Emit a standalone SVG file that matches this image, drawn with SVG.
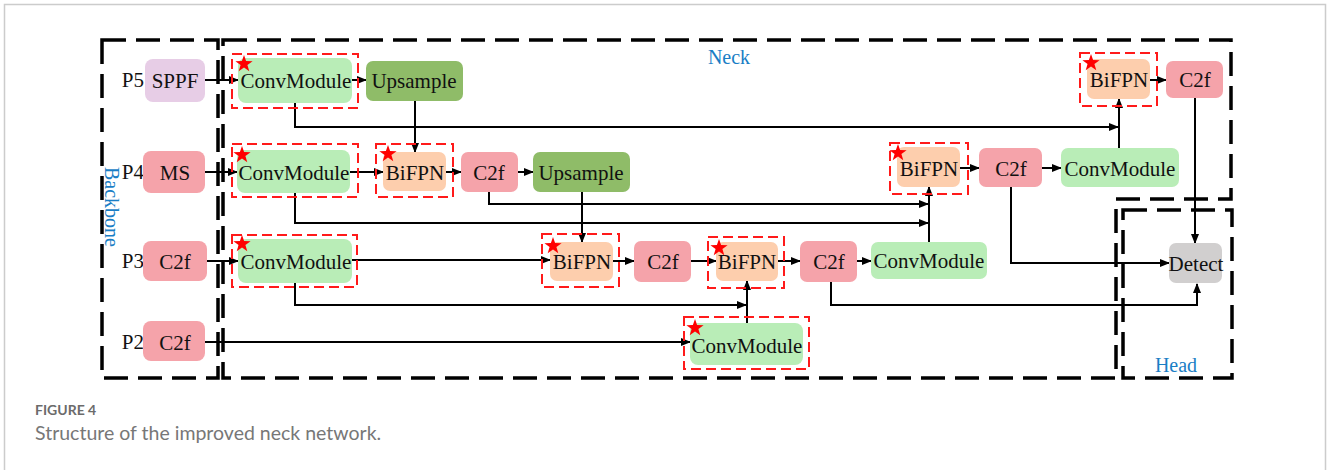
<svg xmlns="http://www.w3.org/2000/svg" width="1328" height="470" viewBox="0 0 1328 470">
<style>
.n text{font-family:"Liberation Serif","Times New Roman",serif;font-size:21px;fill:#111;text-anchor:middle}
.cm{fill:#B9EDB7}.up{fill:#8FBC68}.pk{fill:#F5A3AA}.bf{fill:#FDCEAD}.sp{fill:#E7CDE6}.dt{fill:#D1CFCF}
.rb{fill:none;stroke:#FF1A1A;stroke-width:2;stroke-dasharray:10 5}
.grp{fill:none;stroke:#000;stroke-width:3.5;stroke-dasharray:24 10}
.lbl{font-family:"Liberation Serif","Times New Roman",serif;font-size:20px;fill:#1A7EC5}
.pl{font-family:"Liberation Serif","Times New Roman",serif;font-size:21px;fill:#111;text-anchor:end}
#conn path{fill:none;stroke:#000;stroke-width:2}
</style>
<defs>
<marker id="ah" markerUnits="userSpaceOnUse" markerWidth="10" markerHeight="8" refX="9" refY="4" orient="auto">
<path d="M0,0 L10,4 L0,8 z" fill="#000"/>
</marker>
<path id="star" d="M0,-9 L2.1,-2.9 L8.6,-2.8 L3.4,1.1 L5.3,7.3 L0,3.6 L-5.3,7.3 L-3.4,1.1 L-8.6,-2.8 L-2.1,-2.9 Z" fill="#FF0000"/>
</defs>
<rect width="1328" height="470" fill="#fff"/>
<path d="M4.5,470 V4.5 H1325.5 V470" fill="none" stroke="#CCCCCC" stroke-width="1.5"/>

<g id="groups">
<rect class="grp" x="102" y="40" width="116" height="338"/>
<path class="grp" d="M223,40 H1231 V199 H1116 V378 H223 Z"/>
<rect class="grp" x="1123" y="210" width="109" height="168"/>
<text class="lbl" x="729" y="64" text-anchor="middle">Neck</text>
<text class="lbl" x="1176" y="372" text-anchor="middle">Head</text>
<text class="lbl" transform="translate(105,207) rotate(90)" text-anchor="middle">Backbone</text>
<text class="pl" x="144" y="87">P5</text>
<text class="pl" x="144" y="179">P4</text>
<text class="pl" x="144" y="268">P3</text>
<text class="pl" x="144" y="349">P2</text>
</g>

<g id="conn">
<path d="M205,80 H238" marker-end="url(#ah)"/>
<path d="M352,80 H366" marker-end="url(#ah)"/>
<path d="M415,101 V152" marker-end="url(#ah)"/>
<path d="M295,103 V127 H1118" marker-end="url(#ah)"/>
<path d="M1119,148 V99" marker-end="url(#ah)"/>
<path d="M1150,80 H1166" marker-end="url(#ah)"/>
<path d="M1195,98 V243" marker-end="url(#ah)"/>
<path d="M205,172 H237" marker-end="url(#ah)"/>
<path d="M350,172 H383" marker-end="url(#ah)"/>
<path d="M446,172 H461" marker-end="url(#ah)"/>
<path d="M518,172 H533" marker-end="url(#ah)"/>
<path d="M582,192 V242" marker-end="url(#ah)"/>
<path d="M489,192 V204 H928" marker-end="url(#ah)"/>
<path d="M295,193 V223 H928" marker-end="url(#ah)"/>
<path d="M929,242 V187" marker-end="url(#ah)"/>
<path d="M960,168 H979" marker-end="url(#ah)"/>
<path d="M1042,168 H1061" marker-end="url(#ah)"/>
<path d="M1011,187 V263 H1169" marker-end="url(#ah)"/>
<path d="M207,261 H238" marker-end="url(#ah)"/>
<path d="M352,260 H550" marker-end="url(#ah)"/>
<path d="M613,261 H634" marker-end="url(#ah)"/>
<path d="M691,261 H716" marker-end="url(#ah)"/>
<path d="M778,261 H800" marker-end="url(#ah)"/>
<path d="M857,261 H871" marker-end="url(#ah)"/>
<path d="M831,282 V305 H1197 V284" marker-end="url(#ah)"/>
<path d="M295,283 V305 H746" marker-end="url(#ah)"/>
<path d="M747,323 V281" marker-end="url(#ah)"/>
<path d="M205,342 H690" marker-end="url(#ah)"/>
</g>

<g id="sppf" class="n"><rect class="sp" x="145" y="59" width="60" height="43" rx="8"/><text x="175" y="88">SPPF</text></g>
<g id="conv5" class="n"><rect class="cm" x="238" y="58" width="114" height="45" rx="8"/><text x="296" y="88">ConvModule</text><rect class="rb" x="232" y="54" width="126" height="54"/><use href="#star" x="244" y="64"/></g>
<g id="up5" class="n"><rect class="up" x="366" y="61" width="97" height="40" rx="7"/><text x="414" y="88">Upsample</text></g>

<g id="ms" class="n"><rect class="pk" x="143" y="151" width="62" height="42" rx="8"/><text x="175" y="180">MS</text></g>
<g id="conv4" class="n"><rect class="cm" x="237" y="150" width="113" height="43" rx="8"/><text x="294" y="180">ConvModule</text><rect class="rb" x="232" y="144" width="126" height="53"/><use href="#star" x="242" y="155"/></g>
<g id="bifpn4" class="n"><rect class="bf" x="383" y="152" width="63" height="39" rx="7"/><text x="415" y="180">BiFPN</text><rect class="rb" x="376" y="144" width="77" height="53"/><use href="#star" x="388" y="154"/></g>
<g id="c2f4" class="n"><rect class="pk" x="461" y="152" width="57" height="40" rx="7"/><text x="489" y="180">C2f</text></g>
<g id="up4" class="n"><rect class="up" x="533" y="152" width="97" height="40" rx="7"/><text x="581" y="180">Upsample</text></g>

<g id="c2f3b" class="n"><rect class="pk" x="143" y="241" width="64" height="40" rx="8"/><text x="175" y="269">C2f</text></g>
<g id="conv3" class="n"><rect class="cm" x="238" y="239" width="114" height="44" rx="8"/><text x="296" y="269">ConvModule</text><rect class="rb" x="232" y="235" width="125" height="52"/><use href="#star" x="242" y="244"/></g>
<g id="bifpn3a" class="n"><rect class="bf" x="550" y="242" width="63" height="39" rx="7"/><text x="582" y="269">BiFPN</text><rect class="rb" x="542" y="234" width="77" height="53"/><use href="#star" x="553" y="246"/></g>
<g id="c2f3a" class="n"><rect class="pk" x="634" y="241" width="57" height="41" rx="7"/><text x="663" y="269">C2f</text></g>
<g id="bifpn3b" class="n"><rect class="bf" x="716" y="242" width="62" height="39" rx="7"/><text x="747" y="269">BiFPN</text><rect class="rb" x="708" y="237" width="76" height="51"/><use href="#star" x="719" y="248"/></g>
<g id="c2f3c" class="n"><rect class="pk" x="800" y="241" width="57" height="41" rx="7"/><text x="829" y="269">C2f</text></g>
<g id="conv3r" class="n"><rect class="cm" x="871" y="242" width="116" height="37" rx="7"/><text x="929" y="268">ConvModule</text></g>

<g id="c2f2" class="n"><rect class="pk" x="143" y="321" width="62" height="40" rx="8"/><text x="175" y="350">C2f</text></g>
<g id="conv2" class="n"><rect class="cm" x="690" y="323" width="113" height="42" rx="8"/><text x="747" y="353">ConvModule</text><rect class="rb" x="684" y="317" width="125" height="52"/><use href="#star" x="695" y="328"/></g>

<g id="bifpnr" class="n"><rect class="bf" x="897" y="147" width="63" height="40" rx="7"/><text x="929" y="176">BiFPN</text><rect class="rb" x="890" y="143" width="78" height="51"/><use href="#star" x="898" y="153"/></g>
<g id="c2fr" class="n"><rect class="pk" x="979" y="148" width="63" height="39" rx="7"/><text x="1011" y="176">C2f</text></g>
<g id="convr" class="n"><rect class="cm" x="1061" y="148" width="118" height="39" rx="7"/><text x="1120" y="176">ConvModule</text></g>
<g id="bifpnt" class="n"><rect class="bf" x="1087" y="59" width="63" height="40" rx="7"/><text x="1119" y="87">BiFPN</text><rect class="rb" x="1080" y="53" width="77" height="53"/><use href="#star" x="1091" y="63"/></g>
<g id="c2ft" class="n"><rect class="pk" x="1166" y="61" width="57" height="37" rx="7"/><text x="1195" y="87">C2f</text></g>
<g id="detect" class="n"><rect class="dt" x="1169" y="243" width="53" height="40" rx="7"/><text x="1196" y="271">Detect</text></g>

<g id="caption">
<text x="35" y="415" font-family="Lato,'Open Sans',sans-serif" font-size="14" font-weight="bold" fill="#6B6B6B">FIGURE 4</text>
<text x="35" y="440" font-family="Lato,'Open Sans',sans-serif" font-size="19.5" fill="#777777">Structure of the improved neck network.</text>
</g>
</svg>
